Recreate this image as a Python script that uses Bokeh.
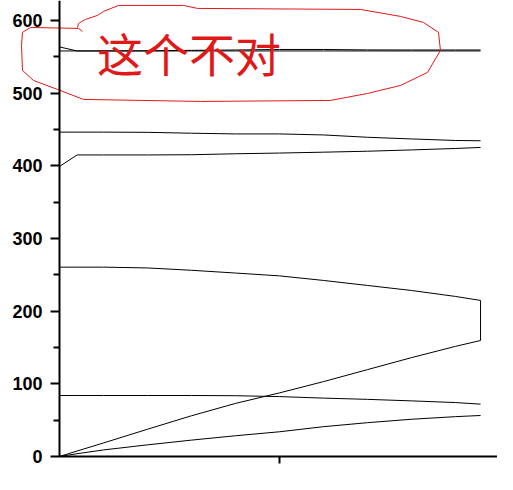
from bokeh.plotting import figure
from bokeh.models import Range1d, FixedTicker
from bokeh.core.properties import value
from bokeh.embed import file_html
from bokeh.resources import INLINE

# ---- data ----
x = [0, 0.4, 1, 2, 3, 4, 5, 6, 7, 8, 9, 9.57]

top_flat = [558, 558, 558, 558, 558, 558, 558, 558, 558, 558, 558, 558]
top_step = [563.5, 558, 558, 558.2, 558.8, 559.3, 560, 560, 559.4, 559.3, 559.3, 559.3]
upper_440 = [446.3, 446.3, 446.3, 446.0, 444.8, 443.8, 443.8, 442.4, 439.2, 436.9, 434.8, 434.4]
lower_420 = [399, 414.9, 414.9, 414.9, 415.2, 416.5, 417.5, 418.7, 420.0, 421.8, 423.8, 425.2]
bell_upper = [260.5, 260.5, 260.5, 259.4, 256.2, 252.4, 248.5, 242.2, 235.3, 228.4, 220.2, 214.7]
steep_rise = [0, 7.5, 18.6, 37.5, 56.0, 73.0, 87.5, 103.0, 119.5, 136.0, 151.5, 159.6]
flat_85 = [83.9, 83.9, 83.9, 83.9, 83.9, 83.6, 82.4, 80.3, 78.6, 76.5, 74.2, 72.0]
low_rise = [0, 3.8, 9.0, 16.0, 22.5, 28.5, 34.0, 41.0, 46.5, 51.2, 54.8, 56.4]

series = [top_flat, top_step, upper_440, lower_420, bell_upper, steep_rise, flat_85, low_rise]

y_major = [0, 100, 200, 300, 400, 500, 600]
y_minor = [50, 150, 250, 350, 450, 550, 650]
x_major = [5]

# hand-drawn red mark around the top line, and its note
mark_x = [0.523, 0.432, -0.659, -0.841, -0.864, -0.841, -0.591, -0.045, 0.545, 3.205,
          6.159, 7.0, 7.75, 8.364, 8.659, 8.614, 8.273, 7.75, 6.841, 3.136, 2.818,
          1.341, 1.0, 0.864, 0.591, 0.432, 0.409]
mark_y = [584.8, 589.0, 590.3, 583.5, 565.6, 531.2, 517.4, 505.0, 491.3, 488.5,
          489.9, 499.5, 510.5, 528.4, 558.7, 583.5, 597.2, 605.5, 615.1, 616.5, 620.6,
          620.6, 612.4, 606.9, 601.4, 595.8, 590.3]
note_text = "这个不对"
note_x = 0.85
note_y = 556

p = figure(width=497, height=474, output_backend="svg", toolbar_location=None,
           x_range=Range1d(-1.341, 9.955), y_range=Range1d(-24.8, 627.4),
           min_border=0, min_border_left=0, min_border_right=0,
           min_border_top=0, min_border_bottom=0)
p.outline_line_color = None
p.grid.visible = False
p.background_fill_color = "white"
p.border_fill_color = "white"

for s in series:
    p.line(x, s, line_color="black", line_width=1)

# closing vertical edge of the bell-shaped curve
p.segment(x0=[x[-1]], y0=[bell_upper[-1]], x1=[x[-1]], y1=[steep_rise[-1]],
          line_color="black", line_width=1)

# red annotation
p.line(mark_x, mark_y, line_color="#e01818", line_width=1)
p.text(x=[note_x], y=[note_y], text=[note_text], text_color="#e01818",
       text_font=value("Noto Sans CJK SC"), text_font_size="46px",
       text_align="left", text_baseline="middle")

# y axis
ya = p.yaxis[0]
ya.fixed_location = 0
ya.bounds = (0, 700)
ya.ticker = FixedTicker(ticks=y_major, minor_ticks=y_minor)
ya.axis_line_width = 2
ya.axis_line_color = "black"
ya.major_tick_line_width = 2
ya.minor_tick_line_width = 2
ya.major_tick_out = 9
ya.major_tick_in = 0
ya.minor_tick_out = 6
ya.minor_tick_in = 0
ya.major_label_standoff = 8
ya.major_label_text_font = "Liberation Sans"
ya.major_label_text_font_size = "18px"
ya.major_label_text_font_style = "bold"
ya.major_label_text_color = "black"

# x axis
xa = p.xaxis[0]
xa.fixed_location = 0
xa.bounds = (0, 11)
xa.ticker = FixedTicker(ticks=x_major, minor_ticks=[])
xa.axis_line_width = 2
xa.axis_line_color = "black"
xa.major_tick_line_width = 2
xa.major_tick_out = 7
xa.major_tick_in = 0
xa.minor_tick_out = 0
xa.minor_tick_in = 0
xa.major_label_overrides = {5: ""}

open("out.html", "w").write(file_html(p, INLINE))
